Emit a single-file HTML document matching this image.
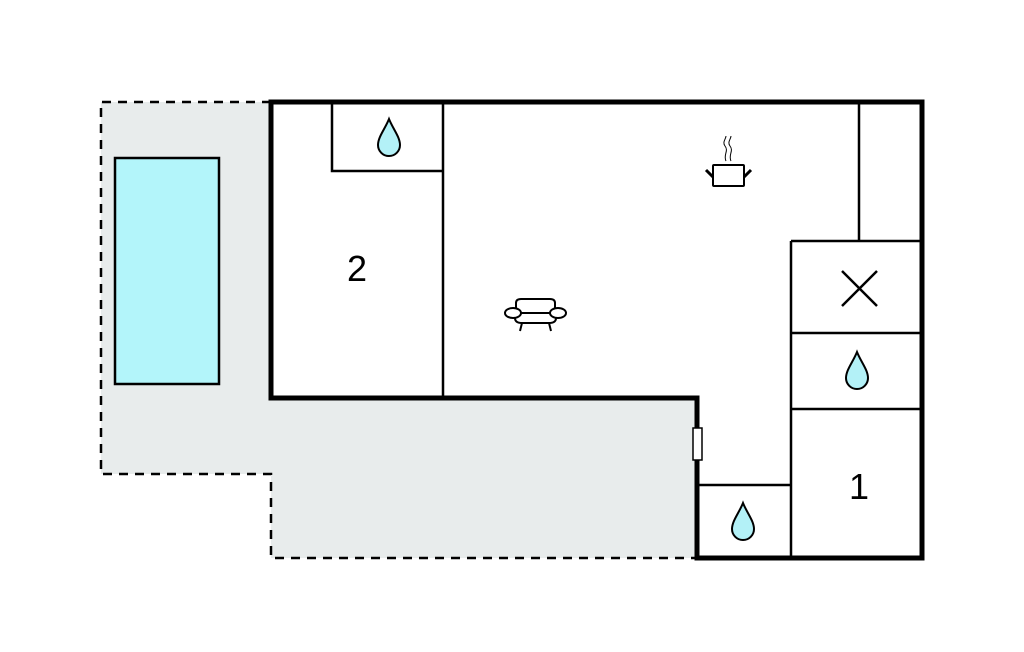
<!DOCTYPE html>
<html><head><meta charset="utf-8"><style>html,body{margin:0;padding:0;background:#fff}svg{display:block}</style></head>
<body>
<svg width="1024" height="652" viewBox="0 0 1024 652" xmlns="http://www.w3.org/2000/svg">
<defs>
<path id="drop" d="M0,-19 C4,-9 11,-1 11,7 A11,11 0 0 1 -11,7 C-11,-1 -4,-9 0,-19Z" fill="#b3f1f7" stroke="#000" stroke-width="2"/>
</defs>
<polygon points="101,102 271,102 271,398 697,398 697,558 271,558 271,474 101,474" fill="#e8ecec"/>
<polyline points="271,102 101,102 101,474 271,474 271,558 697,558" fill="none" stroke="#000" stroke-width="2.5" stroke-dasharray="9,7"/>
<rect x="115" y="158" width="104" height="226" fill="#b3f5fa" stroke="#000" stroke-width="2.5"/>
<polygon points="271,102 922,102 922,558 697,558 697,398 271,398" fill="#fff"/>
<g stroke="#000" stroke-width="2.5" fill="none">
<line x1="443" y1="102" x2="443" y2="398"/>
<polyline points="332,102 332,171 443,171"/>
<line x1="859" y1="102" x2="859" y2="241"/>
<line x1="791" y1="241" x2="922" y2="241"/>
<line x1="791" y1="241" x2="791" y2="558"/>
<line x1="791" y1="333" x2="922" y2="333"/>
<line x1="791" y1="409" x2="922" y2="409"/>
<line x1="697" y1="485" x2="791" y2="485"/>
<line x1="842" y1="271" x2="877" y2="306"/>
<line x1="877" y1="271" x2="842" y2="306"/>
</g>
<polygon points="271,102 922,102 922,558 697,558 697,398 271,398" fill="none" stroke="#000" stroke-width="5"/>
<rect x="693" y="428" width="9" height="32" fill="#fff" stroke="#000" stroke-width="1.5"/>
<use href="#drop" x="389" y="138"/>
<use href="#drop" x="857" y="371"/>
<use href="#drop" x="743" y="522"/>
<text x="357" y="281" font-family="Liberation Sans, sans-serif" font-size="36" text-anchor="middle">2</text>
<text x="859" y="499" font-family="Liberation Sans, sans-serif" font-size="36" text-anchor="middle">1</text>
<g stroke="#000" stroke-width="2" fill="none">
<rect x="713" y="165" width="31" height="21" rx="1"/>
<line x1="706" y1="170" x2="713" y2="177" stroke-width="3"/>
<line x1="751" y1="170" x2="744" y2="177" stroke-width="3"/>
<path d="M726,161 C723,155 729,151 725,146 C722,142 726,139 726,136" stroke-width="1"/>
<path d="M731,161 C728,155 734,151 730,146 C727,142 731,139 731,136" stroke-width="1"/>
<path d="M516,309 L516,303 Q516,299 521,299 L550,299 Q555,299 555,303 L555,309"/>
<ellipse cx="513" cy="313" rx="8" ry="5" fill="#fff"/>
<ellipse cx="558" cy="313" rx="8" ry="5" fill="#fff"/>
<line x1="521" y1="313" x2="550" y2="313"/>
<path d="M515,318 Q515,323 522,323 L549,323 Q556,323 556,318"/>
<line x1="522" y1="323" x2="520" y2="331"/>
<line x1="549" y1="323" x2="551" y2="331"/>
</g>
</svg>
</body></html>
